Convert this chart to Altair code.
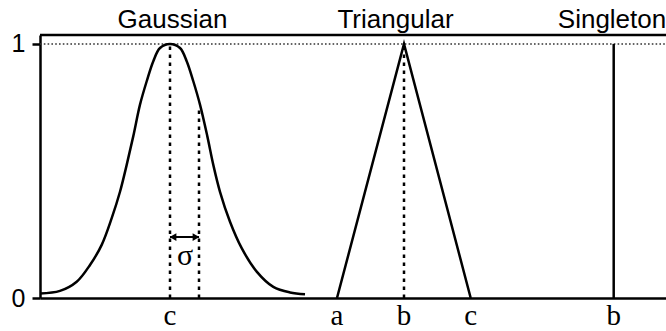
import altair as alt
import pandas as pd

# Gaussian membership curve, traced from the left tail to the right tail
gauss_x = [0.00, 0.20, 0.367, 0.50, 0.617, 0.717, 0.80, 0.867, 0.933, 1.00,
           1.067, 1.133, 1.20, 1.30, 1.40, 1.467, 1.533, 1.60, 1.673, 1.733,
           1.80, 1.90, 2.017, 2.167, 2.333, 2.50, 2.65]
gauss_y = [0.018, 0.028, 0.064, 0.130, 0.209, 0.314, 0.418, 0.524, 0.637, 0.761,
           0.853, 0.932, 0.984, 1.000, 0.984, 0.932, 0.853, 0.761, 0.637, 0.524,
           0.418, 0.300, 0.196, 0.104, 0.044, 0.022, 0.015]

# Triangular membership function: feet a, c and apex b
tri_x = [2.97, 3.64, 4.307]
tri_y = [0.0, 1.0, 0.0]

# Singleton spike at b
single_x = [5.737]
single_top = [1.0]

# Dotted guides: Gaussian centre, centre + sigma, triangle apex
guide_x = [1.30, 1.59, 3.64]
guide_top = [1.0, 0.74, 1.0]

# Sigma arrow
sigma_from = [1.30]
sigma_to = [1.59]
sigma_level = [0.24]
sigma_label_x = [1.45]
sigma_label_y = [0.13]

# Panel titles
titles = ["Gaussian", "Triangular", "Singleton"]
title_x = [1.325, 3.555, 5.72]

# Parameter labels under the baseline
tick_labels = ["c", "a", "b", "c", "b"]
tick_x = [1.30, 2.97, 3.64, 4.307, 5.737]

W, H = 626, 263
xs = alt.Scale(domain=[0, 6.26], nice=False, zero=False)
ys = alt.Scale(domain=[0, 1.035], nice=False, zero=True)

x_axis = alt.Axis(domain=True, domainColor="black", domainWidth=2.5,
                  ticks=False, labels=False, grid=False, title=None)
y_axis = alt.Axis(values=[0, 1], format="d", domain=True, domainColor="black",
                  domainWidth=2.5, ticks=True, tickColor="black", tickWidth=2.5,
                  tickSize=8, labelFont="Liberation Sans", labelFontSize=25,
                  labelColor="black", labelPadding=7, grid=False, title=None)


def X(field):
    return alt.X(field, type="quantitative", scale=xs, axis=x_axis)


def Y(field):
    return alt.Y(field, type="quantitative", scale=ys, axis=y_axis)


gauss_df = pd.DataFrame({"x": gauss_x, "y": gauss_y})
tri_df = pd.DataFrame({"x": tri_x, "y": tri_y})
single_df = pd.DataFrame({"x": single_x, "y": [0.0] * len(single_x), "y2": single_top})
guide_df = pd.DataFrame({"x": guide_x, "y": [0.0] * len(guide_x), "y2": guide_top})
arrow_df = pd.DataFrame({"x": sigma_from, "x2": sigma_to, "y": sigma_level})
sigma_df = pd.DataFrame({"x": sigma_label_x, "y": sigma_label_y, "t": ["σ"]})
title_df = pd.DataFrame({"x": title_x, "t": titles})
tick_df = pd.DataFrame({"x": tick_x, "t": tick_labels})
one_df = pd.DataFrame({"y": [1.0]})

gauss = alt.Chart(gauss_df).mark_line(
    color="black", strokeWidth=2.5, interpolate="catmull-rom"
).encode(x=X("x"), y=Y("y"))

tri = alt.Chart(tri_df).mark_line(color="black", strokeWidth=2.5).encode(
    x=X("x"), y=Y("y"))

single = alt.Chart(single_df).mark_rule(color="black", strokeWidth=2.5).encode(
    x=X("x"), y=Y("y"), y2="y2")

guides = alt.Chart(guide_df).mark_rule(
    color="black", strokeWidth=2.5, strokeDash=[3.5, 4.5]
).encode(x=X("x"), y=Y("y"), y2="y2")

one_line = alt.Chart(one_df).mark_rule(
    color="#333333", strokeWidth=1.5, strokeDash=[1.6, 2.2]
).encode(y=Y("y"), x=alt.value(0), x2=alt.value(W))

top_frame = alt.Chart(one_df).mark_rule(color="black", strokeWidth=2.5).encode(
    y=alt.value(0), x=alt.value(0), x2=alt.value(W))

arrow = alt.Chart(arrow_df).mark_rule(color="black", strokeWidth=2).encode(
    x=X("x"), x2="x2", y=Y("y"))
head_l = alt.Chart(arrow_df).mark_point(
    shape="triangle-left", filled=True, color="black", size=60, opacity=1, xOffset=3
).encode(x=X("x"), y=Y("y"))
head_r = alt.Chart(arrow_df).mark_point(
    shape="triangle-right", filled=True, color="black", size=60, opacity=1, xOffset=-3
).encode(x=X("x2"), y=Y("y"))

sigma = alt.Chart(sigma_df).mark_text(
    font="Liberation Serif", fontSize=30, color="black", baseline="alphabetic", align="center"
).encode(x=X("x"), y=Y("y"), text="t:N")

title_text = alt.Chart(title_df).mark_text(
    font="Liberation Sans", fontSize=26, color="black", baseline="alphabetic", align="center"
).encode(x=X("x"), y=alt.value(-7), text="t:N")

tick_text = alt.Chart(tick_df).mark_text(
    font="Liberation Serif", fontSize=29, color="black", baseline="alphabetic", align="center"
).encode(x=X("x"), y=alt.value(290), text="t:N")

chart = alt.layer(
    one_line, guides, gauss, tri, single, arrow, head_l, head_r, sigma,
    title_text, tick_text, top_frame
).properties(
    width=W, height=H,
    autosize=alt.AutoSizeParams(type="none"),
    padding={"left": 40, "top": 35, "right": 0, "bottom": 33},
).configure_view(stroke=None).configure(background="white")

chart.save("out.html", embed_options={"renderer": "svg", "actions": False})
